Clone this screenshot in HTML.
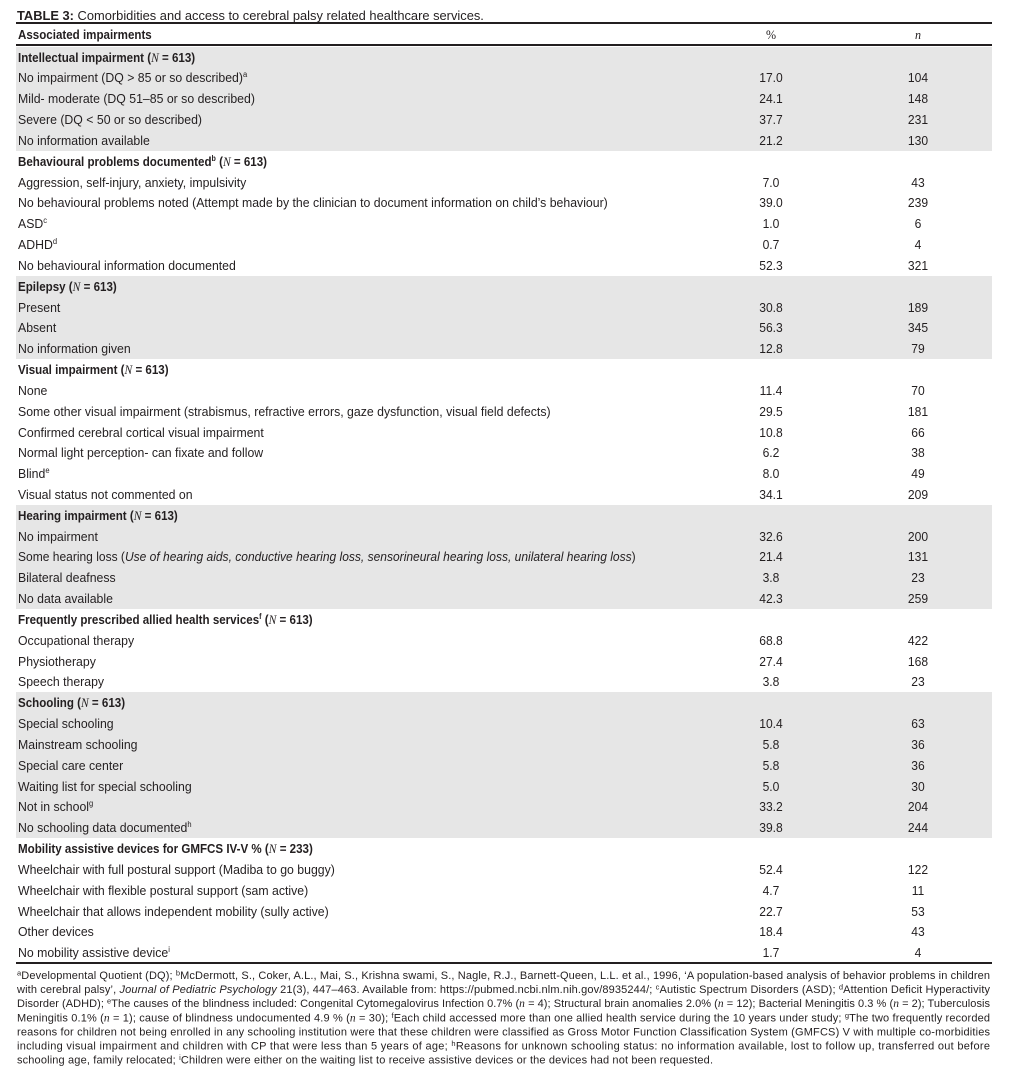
<!DOCTYPE html>
<html><head><meta charset="utf-8">
<style>
html,body{margin:0;padding:0;background:#fff;}
body{width:1023px;height:1076px;position:relative;overflow:hidden;color:#231f20;font-family:"Liberation Sans",sans-serif;}
.abs{position:absolute;}
.title{left:17px;top:7.5px;font-size:13px;line-height:16px;white-space:nowrap;transform:scaleX(.99);transform-origin:0 50%;}
.rule{position:absolute;left:16px;width:976px;background:#231f20;}
.hdr{position:absolute;left:0;top:24px;width:1023px;height:20px;font-size:13px;}
.rows{position:absolute;left:0;top:46.6px;width:1023px;}
.r{position:relative;height:20.84px;font-size:13px;}
.g{background:linear-gradient(#e6e6e6,#e6e6e6) no-repeat 16px 0/976px 100%;}
.t{position:absolute;left:18px;top:1px;line-height:20.84px;white-space:nowrap;transform:scaleX(.945);transform-origin:0 50%;}
.b .t{font-weight:bold;transform:scaleX(.89);}
.p,.n{position:absolute;top:1px;width:100px;text-align:center;line-height:20.84px;transform:scaleX(.93);}
.p{left:721px;}
.n{left:868px;}
.N{font-family:"Liberation Serif",serif;font-style:italic;font-weight:normal;}
sup{font-size:8px;vertical-align:5px;line-height:0;}
svg.fn{position:absolute;left:0;top:960px;}
svg.fn text{font-family:"Liberation Sans",sans-serif;font-size:11px;fill:#231f20;}
.s{font-size:7.5px;}
.ni{font-family:"Liberation Serif",serif;font-style:italic;font-size:11.5px;}
</style></head><body>
<div class="abs title"><b>TABLE 3:</b> Comorbidities and access to cerebral palsy related healthcare services.</div>
<div class="rule" style="top:22px;height:2px;"></div>
<div class="hdr">
  <div class="t" style="top:0;line-height:22px;font-weight:bold;transform:scaleX(.89);">Associated impairments</div>
  <div class="p" style="top:0;line-height:22px;font-family:'Liberation Serif',serif;">%</div>
  <div class="n" style="top:0;line-height:22px;font-family:'Liberation Serif',serif;font-style:italic;">n</div>
</div>
<div class="rule" style="top:44px;height:1.5px;"></div>
<div class="rows">
<div class="r g b"><div class="t">Intellectual impairment (<span class="N">N</span> = 613)</div></div>
<div class="r g"><div class="t">No impairment (DQ &gt; 85 or so described)<sup>a</sup></div><div class="p">17.0</div><div class="n">104</div></div>
<div class="r g"><div class="t">Mild- moderate (DQ 51–85 or so described)</div><div class="p">24.1</div><div class="n">148</div></div>
<div class="r g"><div class="t">Severe (DQ &lt; 50 or so described)</div><div class="p">37.7</div><div class="n">231</div></div>
<div class="r g"><div class="t">No information available</div><div class="p">21.2</div><div class="n">130</div></div>
<div class="r b"><div class="t">Behavioural problems documented<sup>b</sup> (<span class="N">N</span> = 613)</div></div>
<div class="r"><div class="t">Aggression, self-injury, anxiety, impulsivity</div><div class="p">7.0</div><div class="n">43</div></div>
<div class="r"><div class="t">No behavioural problems noted (Attempt made by the clinician to document information on child’s behaviour)</div><div class="p">39.0</div><div class="n">239</div></div>
<div class="r"><div class="t">ASD<sup>c</sup></div><div class="p">1.0</div><div class="n">6</div></div>
<div class="r"><div class="t">ADHD<sup>d</sup></div><div class="p">0.7</div><div class="n">4</div></div>
<div class="r"><div class="t">No behavioural information documented</div><div class="p">52.3</div><div class="n">321</div></div>
<div class="r g b"><div class="t">Epilepsy (<span class="N">N</span> = 613)</div></div>
<div class="r g"><div class="t">Present</div><div class="p">30.8</div><div class="n">189</div></div>
<div class="r g"><div class="t">Absent</div><div class="p">56.3</div><div class="n">345</div></div>
<div class="r g"><div class="t">No information given</div><div class="p">12.8</div><div class="n">79</div></div>
<div class="r b"><div class="t">Visual impairment (<span class="N">N</span> = 613)</div></div>
<div class="r"><div class="t">None</div><div class="p">11.4</div><div class="n">70</div></div>
<div class="r"><div class="t">Some other visual impairment (strabismus, refractive errors, gaze dysfunction, visual field defects)</div><div class="p">29.5</div><div class="n">181</div></div>
<div class="r"><div class="t">Confirmed cerebral cortical visual impairment</div><div class="p">10.8</div><div class="n">66</div></div>
<div class="r"><div class="t">Normal light perception- can fixate and follow</div><div class="p">6.2</div><div class="n">38</div></div>
<div class="r"><div class="t">Blind<sup>e</sup></div><div class="p">8.0</div><div class="n">49</div></div>
<div class="r"><div class="t">Visual status not commented on</div><div class="p">34.1</div><div class="n">209</div></div>
<div class="r g b"><div class="t">Hearing impairment (<span class="N">N</span> = 613)</div></div>
<div class="r g"><div class="t">No impairment</div><div class="p">32.6</div><div class="n">200</div></div>
<div class="r g"><div class="t" style="transform:scaleX(.925);">Some hearing loss (<i>Use of hearing aids, conductive hearing loss, sensorineural hearing loss, unilateral hearing loss</i>)</div><div class="p">21.4</div><div class="n">131</div></div>
<div class="r g"><div class="t">Bilateral deafness</div><div class="p">3.8</div><div class="n">23</div></div>
<div class="r g"><div class="t">No data available</div><div class="p">42.3</div><div class="n">259</div></div>
<div class="r b"><div class="t">Frequently prescribed allied health services<sup>f</sup> (<span class="N">N</span> = 613)</div></div>
<div class="r"><div class="t">Occupational therapy</div><div class="p">68.8</div><div class="n">422</div></div>
<div class="r"><div class="t">Physiotherapy</div><div class="p">27.4</div><div class="n">168</div></div>
<div class="r"><div class="t">Speech therapy</div><div class="p">3.8</div><div class="n">23</div></div>
<div class="r g b"><div class="t">Schooling (<span class="N">N</span> = 613)</div></div>
<div class="r g"><div class="t">Special schooling</div><div class="p">10.4</div><div class="n">63</div></div>
<div class="r g"><div class="t">Mainstream schooling</div><div class="p">5.8</div><div class="n">36</div></div>
<div class="r g"><div class="t">Special care center</div><div class="p">5.8</div><div class="n">36</div></div>
<div class="r g"><div class="t">Waiting list for special schooling</div><div class="p">5.0</div><div class="n">30</div></div>
<div class="r g"><div class="t">Not in school<sup>g</sup></div><div class="p">33.2</div><div class="n">204</div></div>
<div class="r g"><div class="t">No schooling data documented<sup>h</sup></div><div class="p">39.8</div><div class="n">244</div></div>
<div class="r b"><div class="t">Mobility assistive devices for GMFCS IV-V % (<span class="N">N</span> = 233)</div></div>
<div class="r"><div class="t">Wheelchair with full postural support (Madiba to go buggy)</div><div class="p">52.4</div><div class="n">122</div></div>
<div class="r"><div class="t">Wheelchair with flexible postural support (sam active)</div><div class="p">4.7</div><div class="n">11</div></div>
<div class="r"><div class="t">Wheelchair that allows independent mobility (sully active)</div><div class="p">22.7</div><div class="n">53</div></div>
<div class="r"><div class="t">Other devices</div><div class="p">18.4</div><div class="n">43</div></div>
<div class="r"><div class="t">No mobility assistive device<sup>i</sup></div><div class="p">1.7</div><div class="n">4</div></div>
</div>
<div class="rule" style="top:962px;height:2px;"></div>
<svg class="fn" width="1023" height="116" viewBox="0 0 1023 116" xmlns="http://www.w3.org/2000/svg">
<text x="17" y="19" textLength="973" lengthAdjust="spacing"><tspan class="s" dy="-3.5">a</tspan><tspan dy="3.5">Developmental Quotient (DQ); </tspan><tspan class="s" dy="-3.5">b</tspan><tspan dy="3.5">McDermott, S., Coker, A.L., Mai, S., Krishna swami, S., Nagle, R.J., Barnett-Queen, L.L. et al., 1996, ‘A population-based analysis of behavior problems in children</tspan></text>
<text x="17" y="33.1" textLength="973" lengthAdjust="spacing">with cerebral palsy’, <tspan font-style="italic">Journal of Pediatric Psychology</tspan> 21(3), 447–463. Available from: https://pubmed.ncbi.nlm.nih.gov/8935244/; <tspan class="s" dy="-3.5">c</tspan><tspan dy="3.5">Autistic Spectrum Disorders (ASD); </tspan><tspan class="s" dy="-3.5">d</tspan><tspan dy="3.5">Attention Deficit Hyperactivity</tspan></text>
<text x="17" y="47.2" textLength="973" lengthAdjust="spacing">Disorder (ADHD); <tspan class="s" dy="-3.5">e</tspan><tspan dy="3.5">The causes of the blindness included: Congenital Cytomegalovirus Infection 0.7% (</tspan><tspan class="ni">n</tspan> = 4); Structural brain anomalies 2.0% (<tspan class="ni">n</tspan> = 12); Bacterial Meningitis 0.3 % (<tspan class="ni">n</tspan> = 2); Tuberculosis</text>
<text x="17" y="61.3" textLength="973" lengthAdjust="spacing">Meningitis 0.1% (<tspan class="ni">n</tspan> = 1); cause of blindness undocumented 4.9 % (<tspan class="ni">n</tspan> = 30); <tspan class="s" dy="-3.5">f</tspan><tspan dy="3.5">Each child accessed more than one allied health service during the 10 years under study; </tspan><tspan class="s" dy="-3.5">g</tspan><tspan dy="3.5">The two frequently recorded</tspan></text>
<text x="17" y="75.4" textLength="973" lengthAdjust="spacing">reasons for children not being enrolled in any schooling institution were that these children were classified as Gross Motor Function Classification System (GMFCS) V with multiple co-morbidities</text>
<text x="17" y="89.5" textLength="973" lengthAdjust="spacing">including visual impairment and children with CP that were less than 5 years of age; <tspan class="s" dy="-3.5">h</tspan><tspan dy="3.5">Reasons for unknown schooling status: no information available, lost to follow up, transferred out before</tspan></text>
<text x="17" y="103.6" textLength="696" lengthAdjust="spacing">schooling age, family relocated; <tspan class="s" dy="-3.5">i</tspan><tspan dy="3.5">Children were either on the waiting list to receive assistive devices or the devices had not been requested.</tspan></text>
</svg>
</body></html>
